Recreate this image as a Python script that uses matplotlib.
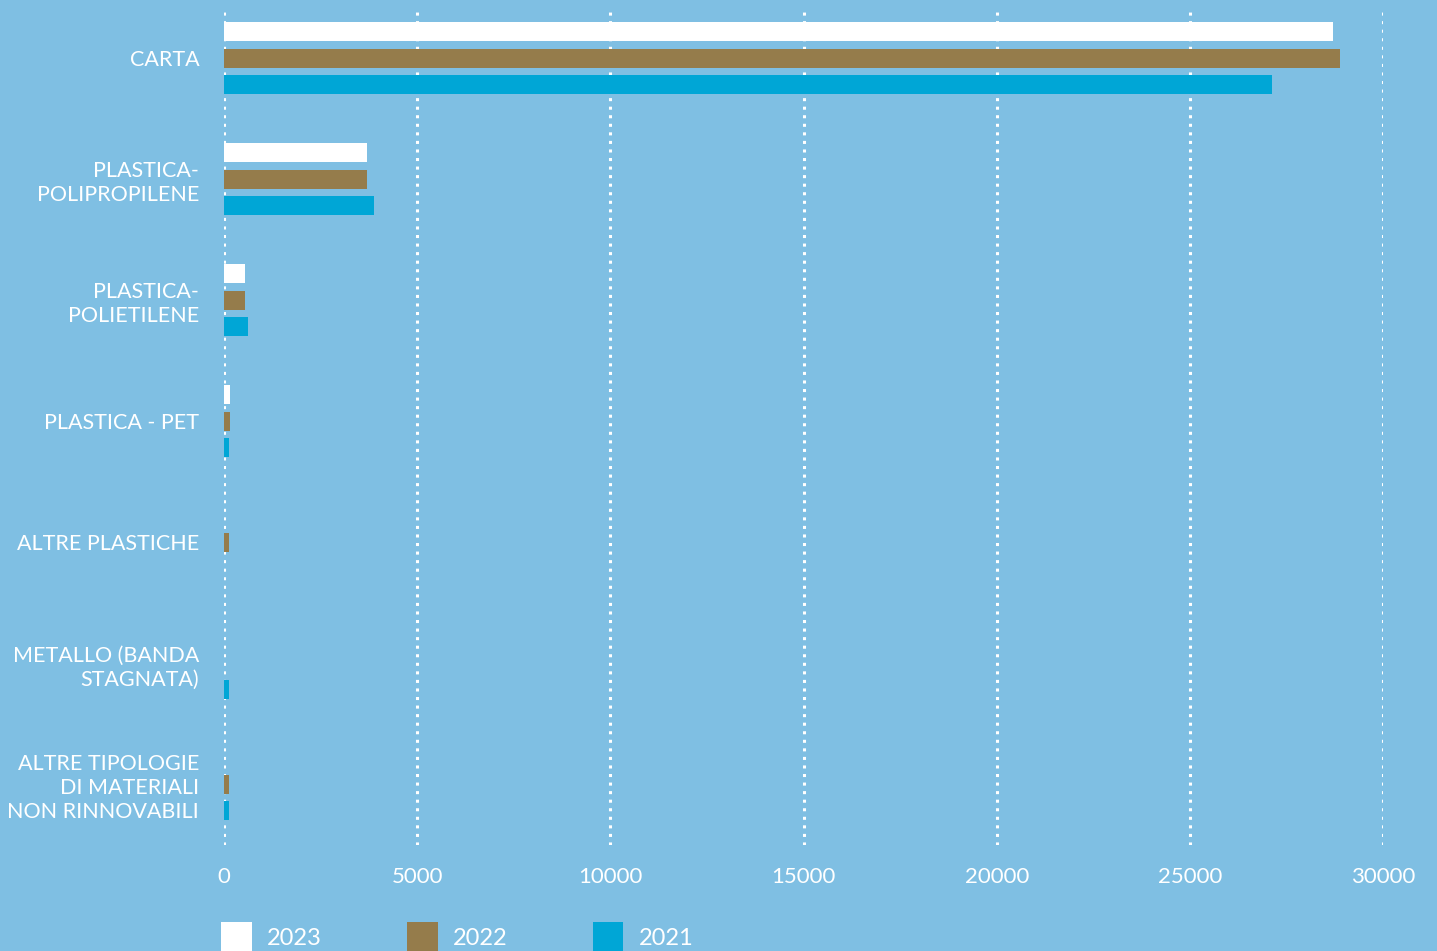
import matplotlib
matplotlib.use("Agg")
import matplotlib.pyplot as plt
import numpy as np
from matplotlib.patches import Patch

categories = ["CARTA", "PLASTICA-\nPOLIPROPILENE", "PLASTICA-\nPOLIETILENE", "PLASTICA - PET",
              "ALTRE PLASTICHE", "METALLO (BANDA\nSTAGNATA)", "ALTRE TIPOLOGIE\nDI MATERIALI\nNON RINNOVABILI"]
series_names = ["2023", "2022", "2021"]
v2023 = [28700, 3700, 540, 150, 0, 0, 0]
v2022 = [28890, 3700, 540, 150, 120, 0, 120]
v2021 = [27120, 3890, 620, 120, 0, 120, 120]
xticks = [0, 5000, 10000, 15000, 20000, 25000, 30000]

bg = "#7fbfe3"
colors = ["#ffffff", "#957c4b", "#00a6d6"]

plt.rcParams['font.family'] = ['Lato', 'DejaVu Sans']

fig = plt.figure(figsize=(14.37, 9.51), dpi=100, facecolor=bg)
ax = fig.add_axes([0.156, 0.1115, 0.8064, 0.8755], facecolor=bg)

y = np.arange(len(categories))
h = 0.157
off = 0.219
for i, (vals, c, name) in enumerate(zip([v2023, v2022, v2021], colors, series_names)):
    ax.barh(y + (i - 1) * off, vals, height=h, color=c, label=name, zorder=3)

ax.set_xlim(0, 30000)
ax.set_ylim(6.5, -0.38)
ax.set_xticks(xticks)
ax.set_xticklabels([str(t) for t in xticks])
ax.set_yticks(y)
ax.set_yticklabels(categories, ha='right', linespacing=1.25)
ax.tick_params(axis='both', length=0, colors='white')
ax.tick_params(axis='x', pad=16, labelsize=16)
ax.tick_params(axis='y', pad=18, labelsize=15.5)
for s in ax.spines.values():
    s.set_visible(False)
ax.grid(axis='x', color='white', linestyle=(0, (1, 1.8)), linewidth=2.2, zorder=1)
ax.grid(axis='y', visible=False)

handles = [Patch(facecolor=c, edgecolor='none') for c in colors]
fig.legend(handles, series_names, loc='upper left', bbox_to_anchor=(0.139, 0.053),
           ncol=3, frameon=False, fontsize=17, labelcolor='white',
           handlelength=1.3, handleheight=1.6, handletextpad=0.65, columnspacing=3.6)

fig.savefig("out.png", dpi=100, facecolor=bg)
